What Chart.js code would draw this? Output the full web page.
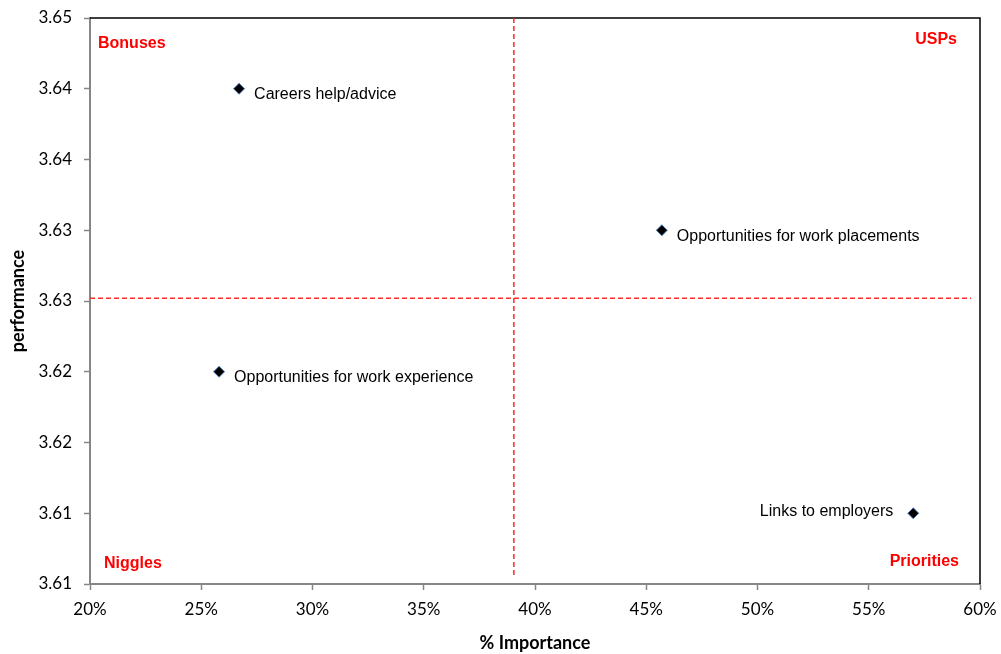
<!DOCTYPE html>
<html>
<head>
<meta charset="utf-8">
<script src="https://cdn.jsdelivr.net/npm/chart.js@4.4.0/dist/chart.umd.min.js"></script>
<style>
  html, body { margin: 0; padding: 0; background: #fff; }
  #wrap { width: 1001px; height: 654px; }
</style>
</head>
<body>
<div id="wrap"><canvas id="quadrant"></canvas></div>
<script>
// attributes: % importance vs performance score
var labels = ['Careers help/advice', 'Opportunities for work placements', 'Opportunities for work experience', 'Links to employers'];
var importance = [26.7, 45.7, 25.8, 57.0];
var performance = [3.640, 3.630, 3.620, 3.610];
var labelSide = ['right', 'right', 'right', 'left'];

// average lines splitting the quadrants
var avgImportance = 39.05;
var avgPerformance = 3.6252;

var yTickLabels = ['3.61', '3.61', '3.62', '3.62', '3.63', '3.63', '3.64', '3.64', '3.65'];
var quadrants = ['Bonuses', 'USPs', 'Niggles', 'Priorities'];

var points = [];
for (var i = 0; i < labels.length; i++) {
  points.push({ x: importance[i], y: performance[i] });
}

var tickFont = { family: 'Lato', size: 17 };
var titleFont = { family: 'Lato', size: 18, weight: 'bold' };

var quadrantPlugin = {
  id: 'quadrantText',
  beforeDatasetsDraw: function (chart) {
    var ctx = chart.ctx, a = chart.chartArea;
    ctx.save();
    // top and right frame
    ctx.strokeStyle = '#000';
    ctx.lineWidth = 1.5;
    ctx.beginPath();
    ctx.moveTo(a.left, a.top);
    ctx.lineTo(a.right, a.top);
    ctx.lineTo(a.right, a.bottom);
    ctx.stroke();
    ctx.restore();
  },
  afterDatasetsDraw: function (chart) {
    var ctx = chart.ctx, a = chart.chartArea;
    var meta = chart.getDatasetMeta(2);
    ctx.save();
    ctx.font = '16px "Liberation Sans", Arial, sans-serif';
    ctx.fillStyle = '#000';
    ctx.textBaseline = 'middle';
    meta.data.forEach(function (pt, i) {
      if (labelSide[i] === 'left') {
        ctx.textAlign = 'right';
        ctx.fillText(labels[i], pt.x - 20, pt.y - 2);
      } else {
        ctx.textAlign = 'left';
        ctx.fillText(labels[i], pt.x + 15, pt.y + 6);
      }
    });

    ctx.font = 'bold 16px "Liberation Sans", Arial, sans-serif';
    ctx.fillStyle = '#ff0000';
    ctx.textAlign = 'left';
    ctx.fillText(quadrants[0], a.left + 8, a.top + 26);
    ctx.fillText(quadrants[2], a.left + 14, a.bottom - 20);
    ctx.textAlign = 'right';
    ctx.fillText(quadrants[1], a.right - 23, a.top + 22);
    ctx.fillText(quadrants[3], a.right - 21, a.bottom - 22);
    ctx.restore();
  }
};

new Chart(document.getElementById('quadrant'), {
  type: 'scatter',
  data: {
    datasets: [{
      data: [{ x: avgImportance, y: 3.645 }, { x: avgImportance, y: 3.6055 }],
      showLine: true,
      borderColor: '#ff2a2a',
      borderWidth: 1.5,
      borderDash: [5, 3],
      pointRadius: 0
    }, {
      data: [{ x: 20, y: avgPerformance }, { x: 59.6, y: avgPerformance }],
      showLine: true,
      borderColor: '#ff2a2a',
      borderWidth: 1.5,
      borderDash: [5, 3],
      pointRadius: 0
    }, {
      data: points,
      pointStyle: 'rectRot',
      pointRadius: 5.5,
      backgroundColor: '#000',
      borderColor: '#4f81bd',
      borderWidth: 1
    }]
  },
  options: {
    responsive: true,
    maintainAspectRatio: false,
    animation: false,
    layout: { padding: { left: 0, top: 18, right: 21, bottom: 0 } },
    plugins: {
      legend: { display: false },
      tooltip: { enabled: false }
    },
    scales: {
      x: {
        type: 'linear',
        min: 20,
        max: 60,
        ticks: {
          stepSize: 5,
          color: '#000',
          font: tickFont,
          padding: 9,
          callback: function (v) { return v + '%'; }
        },
        grid: { drawOnChartArea: false, drawTicks: true, tickLength: 6, tickColor: '#868686', tickWidth: 1.5 },
        border: { color: '#868686', width: 2 },
        title: { display: true, text: '% Importance', color: '#000', font: titleFont, padding: { top: 4, bottom: 0 } },
        afterFit: function (scale) {
          scale.height = 70;
          scale.paddingLeft = 0;
          scale.paddingRight = 0;
        }
      },
      y: {
        type: 'linear',
        min: 3.605,
        max: 3.645,
        ticks: {
          stepSize: 0.005,
          color: '#000',
          font: tickFont,
          padding: 12,
          callback: function (v, idx) { return yTickLabels[idx]; }
        },
        grid: { drawOnChartArea: false, drawTicks: true, tickLength: 6, tickColor: '#868686', tickWidth: 1.5 },
        border: { color: '#868686', width: 2 },
        title: { display: true, text: 'performance', color: '#000', font: titleFont, padding: { top: 7, bottom: 2 } },
        afterFit: function (scale) {
          scale.width = 90;
          scale.paddingTop = 0;
          scale.paddingBottom = 0;
        }
      }
    }
  },
  plugins: [quadrantPlugin]
});
</script>
</body>
</html>
